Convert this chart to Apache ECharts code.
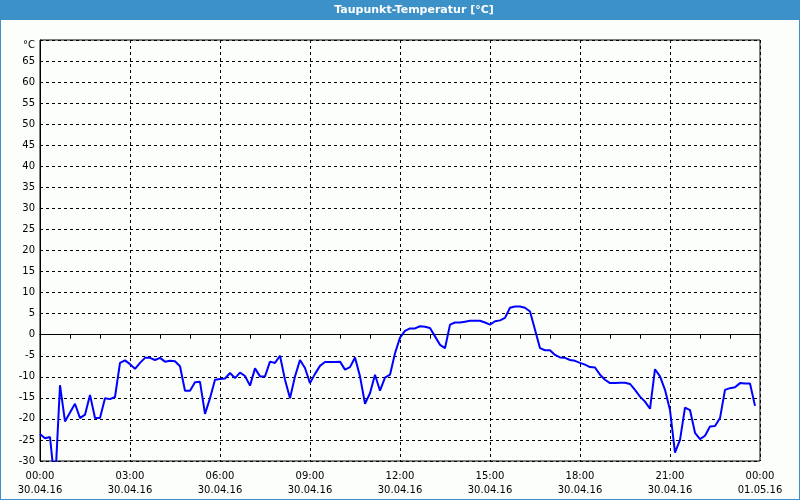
<!DOCTYPE html>
<html>
<head>
<meta charset="utf-8">
<script src="https://cdn.jsdelivr.net/npm/echarts@6/dist/echarts.min.js"></script>
<style>
html,body{margin:0;padding:0;background:#fcfefc;}
#c{width:800px;height:500px;}
</style>
</head>
<body>
<div id="c"></div>
<script>
// Dew point temperature, 10-minute samples starting 30.04.16 00:00
const startMinute = 0;
const stepMinutes = 10;
const values = [
  -23.6, -24.6, -24.3, -36, -12, -20.6, -18.5, -16.4, -19.8, -19,
  -14.3, -19.8, -19.8, -15.1, -15.3, -14.8, -6.7, -6.1, -7, -8.1,
  -6.7, -5.5, -5.5, -6, -5.5, -6.4, -6.2, -6.3, -7.5, -13.3,
  -13.3, -11.3, -11.2, -18.8, -15.1, -10.7, -10.5, -10.4, -9.1, -10.3,
  -9, -9.8, -12.1, -8, -9.9, -9.9, -6.4, -6.7, -5, -10.7,
  -15.1, -9.9, -6, -7.9, -11.5, -9.3, -7.4, -6.5, -6.5, -6.5,
  -6.4, -8.3, -7.7, -5.4, -9.9, -16.4, -13.9, -9.5, -13.3, -10.2,
  -9.5, -4.4, -0.7, 0.9, 1.5, 1.5, 2, 1.9, 1.6, -0.4,
  -2.4, -3.2, 2.4, 2.9, 2.9, 3.1, 3.3, 3.3, 3.3, 2.9,
  2.4, 3.2, 3.4, 4, 6.4, 6.7, 6.7, 6.4, 5.5, 1.2,
  -3.2, -3.7, -3.7, -4.8, -5.4, -5.5, -6, -6.2, -6.7, -7.1,
  -7.7, -7.8, -9.5, -10.7, -11.5, -11.5, -11.4, -11.4, -11.7, -13.1,
  -14.7, -15.9, -17.6, -8.2, -9.9, -13.1, -17.9, -28, -25, -17.3,
  -17.9, -23.3, -24.8, -24, -21.8, -21.7, -19.8, -13.1, -12.7, -12.5,
  -11.5, -11.6, -11.6, -16.9
];
const timeLabels = ['00:00','03:00','06:00','09:00','12:00','15:00','18:00','21:00','00:00'];
const dateLabels = ['30.04.16','30.04.16','30.04.16','30.04.16','30.04.16','30.04.16','30.04.16','30.04.16','01.05.16'];
const yUnitLabel = '°C';
const titleText = 'Taupunkt-Temperatur [°C]';

const data = values.map((v, i) => [startMinute + i * stepMinutes, v]);

const blue = '#3c91c8';
const chart = echarts.init(document.getElementById('c'), null, {renderer: 'canvas'});
const labelFont = {fontFamily: 'DejaVu Sans', fontSize: 10, color: '#000'};

chart.setOption({
  backgroundColor: '#fcfefc',
  animation: false,
  grid: {left: 40, right: 40, top: 40, bottom: 39, show: true, borderColor: '#000', borderWidth: 1, backgroundColor: 'transparent'},
  graphic: [
    {type: 'rect', shape: {x: 0, y: 0, width: 800, height: 20}, style: {fill: blue}, z: 10},
    {type: 'rect', shape: {x: 0, y: 0, width: 1, height: 500}, style: {fill: blue}, z: 10},
    {type: 'rect', shape: {x: 799, y: 0, width: 1, height: 500}, style: {fill: blue}, z: 10},
    {type: 'rect', shape: {x: 0, y: 499, width: 800, height: 1}, style: {fill: blue}, z: 10},
    {type: 'text', x: 414, y: 10, z: 11, style: {text: titleText, fill: '#fff', font: 'bold 11px "DejaVu Sans"', align: 'center', verticalAlign: 'middle'}}
  ],
  xAxis: {
    type: 'value', min: 0, max: 1440, interval: 180,
    axisLine: {show: true, lineStyle: {color: '#000', width: 1}},
    axisTick: {show: true, length: 4, lineStyle: {color: '#000'}},
    minorTick: {show: true, splitNumber: 3, length: 4, lineStyle: {color: '#000'}},
    splitLine: {show: true, lineStyle: {color: '#000', type: [3, 3], width: 1}},
    axisLabel: Object.assign({}, labelFont, {
      margin: 8, lineHeight: 14, showMinLabel: true, showMaxLabel: true,
      formatter: function (v) { const k = Math.round(v / 180); return timeLabels[k] + '\n' + dateLabels[k]; }
    })
  },
  yAxis: {
    type: 'value', min: -30, max: 70, interval: 5,
    axisLine: {show: true, lineStyle: {color: '#000', width: 1}},
    axisTick: {show: false},
    splitLine: {show: true, lineStyle: {color: '#000', type: [3, 3], width: 1}},
    axisLabel: Object.assign({}, labelFont, {
      margin: 5, showMaxLabel: true,
      rich: {u: {fontFamily: 'DejaVu Sans', fontSize: 10, color: '#000', padding: [11, 0, 0, 0]}},
      formatter: function (v) { return v === 70 ? '{u|' + yUnitLabel + '}' : String(v); }
    })
  },
  series: [{
    type: 'line', data: data, showSymbol: false, clip: true,
    lineStyle: {color: '#0000ff', width: 2}, z: 5
  }]
});
</script>
</body>
</html>
